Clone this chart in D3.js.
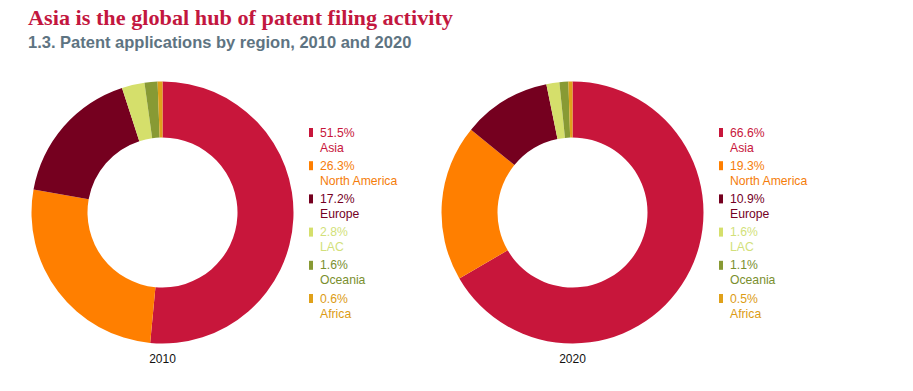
<!DOCTYPE html>
<html><head><meta charset="utf-8">
<script src="https://cdn.jsdelivr.net/npm/d3@7"></script>
<style>body{margin:0;background:#fff}svg{display:block}</style>
</head><body>
<svg id="c" width="913" height="391"></svg>
<script>
const regions = ["Asia", "North America", "Europe", "LAC", "Oceania", "Africa"];
const years = ["2010", "2020"];
const values2010 = [51.5, 26.3, 17.2, 2.8, 1.6, 0.6];
const values2020 = [66.6, 19.3, 10.9, 1.6, 1.1, 0.5];
const colors = ["#c8163b", "#ff7f00", "#75001f", "#d5df6b", "#889a34", "#e0a11a"];
const textColors = ["#c8163b", "#f57d0a", "#75001f", "#d2df7a", "#7a8f2e", "#dc9c14"];

const svg = d3.select("#c");
svg.append("text").attr("x", 28).attr("y", 25)
  .attr("font-family", "Liberation Serif, serif").attr("font-weight", "bold")
  .attr("font-size", 21.5).attr("fill", "#c3173f")
  .attr("textLength", 425).attr("lengthAdjust", "spacingAndGlyphs")
  .text("Asia is the global hub of patent filing activity");
svg.append("text").attr("x", 28).attr("y", 48)
  .attr("font-family", "Liberation Sans, Arial, sans-serif").attr("font-weight", "bold")
  .attr("font-size", 16.5).attr("fill", "#5e7482")
  .text("1.3. Patent applications by region, 2010 and 2020");

const color = d3.scaleOrdinal().domain(regions).range(colors);
const tcolor = d3.scaleOrdinal().domain(regions).range(textColors);
const pie = d3.pie().sort(null).value(d => d.v);
const arc = d3.arc().innerRadius(75).outerRadius(131);

const charts = [
  {year: years[0], values: values2010, cx: 162.5, lx: 309},
  {year: years[1], values: values2020, cx: 572.5, lx: 719}
];
const cy = 212.5;

charts.forEach(ch => {
  const data = regions.map((r, i) => ({r, v: ch.values[i]}));
  const g = svg.append("g").attr("transform", `translate(${ch.cx},${cy})`);
  g.selectAll("path").data(pie(data)).join("path")
    .attr("d", arc).attr("fill", d => color(d.data.r));
  svg.append("text").attr("x", ch.cx).attr("y", 363).attr("text-anchor", "middle")
    .attr("font-family", "Liberation Sans, Arial, sans-serif").attr("font-size", 12)
    .attr("fill", "#111").text(ch.year);
  const y = d3.scaleBand().domain(regions).range([128, 128 + 33.2 * 6]);
  const lg = svg.append("g");
  const rows = lg.selectAll("g").data(data).join("g")
    .attr("transform", d => `translate(${ch.lx},${y(d.r)})`);
  rows.append("rect").attr("width", 4).attr("height", 9).attr("fill", d => color(d.r));
  rows.append("text").attr("x", 11).attr("y", 8.5)
    .attr("font-family", "Liberation Sans, Arial, sans-serif").attr("font-size", 12.2)
    .attr("fill", d => tcolor(d.r)).text(d => d.v.toFixed(1) + "%");
  rows.append("text").attr("x", 11).attr("y", 23.5)
    .attr("font-family", "Liberation Sans, Arial, sans-serif").attr("font-size", 12.2)
    .attr("fill", d => tcolor(d.r)).text(d => d.r);
});
</script>
</body></html>
